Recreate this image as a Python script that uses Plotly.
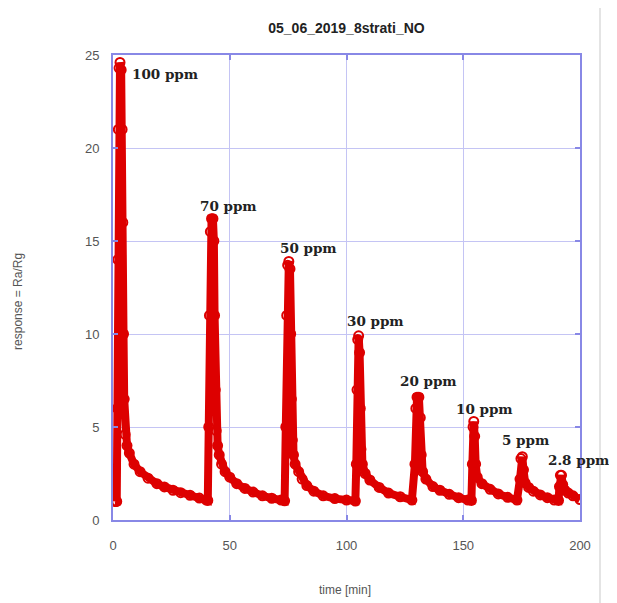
import plotly.graph_objects as go

# time [min] and response (Ra/Rg)
time_min = [
    0.8, 1.2, 1.6, 1.9, 2.1, 2.3, 2.6, 3.0, 3.5, 3.9, 4.2, 4.5, 4.8, 5.2, 6.0, 7.0, 9.0,
    11.6, 15.0, 18.8, 22.0, 25.7, 29.0, 33.0, 37.0, 40.0,
    40.6, 41.0, 41.3, 41.7, 42.2, 42.8, 43.2, 43.5, 43.8, 44.2, 44.8, 45.5, 46.5, 48.0,
    50.0, 53.0, 56.5, 60.0, 64.0, 68.0, 72.0, 73.5,
    74.0, 74.4, 74.8, 75.3, 75.8, 76.1, 76.4, 76.8, 77.3, 78.0, 79.5, 81.0, 83.0, 86.0,
    90.0, 95.0, 100.0, 103.8,
    104.2, 104.5, 104.8, 105.2, 105.6, 105.9, 106.2, 106.8, 108.0, 110.0, 114.0, 118.0,
    123.0, 128.0,
    129.3, 129.7, 130.2, 131.0, 131.6, 132.0, 132.6, 134.0, 137.0, 140.0, 144.0, 148.0,
    152.0, 153.5,
    153.9, 154.2, 154.5, 154.9, 155.3, 156.0, 158.0, 161.5, 165.0, 169.0, 173.0,
    174.3, 174.7, 175.3, 175.8, 176.5, 178.0, 180.0, 183.0, 186.0, 189.0, 190.8,
    191.2, 191.6, 192.1, 192.6, 193.5, 195.0, 197.0, 200.0,
]
response = [
    1.0, 1.0, 1.0, 6.0, 14.0, 21.0, 24.3, 24.6, 24.2, 21.0, 16.0, 10.0, 6.5, 4.6, 4.0, 3.6, 3.0,
    2.6, 2.25, 1.95, 1.78, 1.6, 1.47, 1.33, 1.18, 1.07,
    1.05, 5.0, 11.0, 15.5, 16.2, 16.2, 15.0, 11.0, 7.0, 4.8, 4.0, 3.5, 3.0, 2.6,
    2.3, 1.95, 1.7, 1.5, 1.3, 1.17, 1.07, 1.03,
    5.0, 11.0, 13.7, 13.9, 13.5, 10.0, 6.5, 4.3, 3.5, 3.0, 2.6, 2.2, 1.85, 1.55,
    1.3, 1.15, 1.07, 1.02,
    3.0, 7.0, 9.7, 9.9, 9.0, 6.0, 3.8, 3.0, 2.5, 2.15, 1.75, 1.45,
    1.25, 1.07,
    3.0, 6.0, 6.6, 6.6, 5.5, 3.5, 2.6, 2.2, 1.8, 1.6, 1.38, 1.2,
    1.07, 1.05,
    3.0, 5.0, 5.3, 4.5, 3.0, 2.3, 1.95, 1.65, 1.4, 1.22, 1.07,
    2.2, 3.3, 3.4, 2.7, 2.0, 1.75, 1.55, 1.35, 1.2, 1.07, 1.05,
    1.8, 2.4, 2.4, 1.9, 1.6, 1.45, 1.3, 1.1,
]

# concentration labels and where they sit (data coordinates, left edge)
labels = ["100 ppm", "70 ppm", "50 ppm", "30 ppm", "20 ppm", "10 ppm", "5 ppm", "2.8 ppm"]
label_t = [7.3, 36.4, 70.7, 99.4, 122.1, 146.0, 165.7, 185.4]
label_y = [24.0, 16.9, 14.6, 10.7, 7.45, 5.95, 4.3, 3.25]

x_ticks = [0, 50, 100, 150, 200]
y_ticks = [0, 5, 10, 15, 20, 25]

RED = "#dd0000"
AXIS = "#8888e6"
GRID = "#c4c4f4"

fig = go.Figure()
fig.add_trace(go.Scatter(
    x=time_min, y=response, mode="lines+markers",
    line=dict(color=RED, width=8),
    marker=dict(symbol="circle-open", size=9, color=RED, line=dict(width=2, color=RED)),
    showlegend=False, hoverinfo="x+y",
))

for txt, tx, ty in zip(labels, label_t, label_y):
    fig.add_annotation(x=tx, y=ty, text=txt, showarrow=False, xanchor="left", yanchor="middle",
                       font=dict(family="DejaVu Serif", size=13.5, color="#222222", weight="bold"))

# axis titles
fig.add_annotation(xref="paper", yref="paper", x=0.497, y=-0.1505, text="time [min]", showarrow=False,
                   xanchor="center", yanchor="middle",
                   font=dict(family="Liberation Sans", size=12, color="#555555"))
fig.add_annotation(xref="paper", yref="paper", x=-0.2034, y=0.469, text="response = Ra/Rg", showarrow=False,
                   xanchor="center", yanchor="middle", textangle=-90,
                   font=dict(family="Liberation Sans", size=12, color="#555555"))

# light grey frame edge on the right
fig.add_shape(type="line", xref="paper", yref="paper", x0=1.0428, x1=1.0428, y0=-0.18, y1=1.12,
              line=dict(color="#e4e4e4", width=2))

axis_common = dict(
    showline=True, linecolor=AXIS, linewidth=2, mirror="ticks",
    ticks="inside", ticklen=5, tickcolor=AXIS, tickwidth=1.5,
    showgrid=True, gridcolor=GRID, gridwidth=1, zeroline=False,
    tickfont=dict(family="Liberation Sans", size=13, color="#555555"),
)

fig.update_xaxes(range=[0, 200], tickvals=x_ticks, ticklabelstandoff=12, **axis_common)
fig.update_yaxes(range=[0, 25], tickvals=y_ticks, ticklabelstandoff=9, **axis_common)

# page body adds an 8 px offset; figure sized to compensate
fig.update_layout(
    width=609, height=595,
    margin=dict(l=105, r=37, t=47, b=83),
    paper_bgcolor="white", plot_bgcolor="white",
    title=dict(text="05_06_2019_8strati_NO", x=0.5558, xanchor="center", y=0.9664, yanchor="middle",
               font=dict(family="Liberation Sans", size=14, color="#222222", weight="bold")),
)

fig.write_html("out.html")
